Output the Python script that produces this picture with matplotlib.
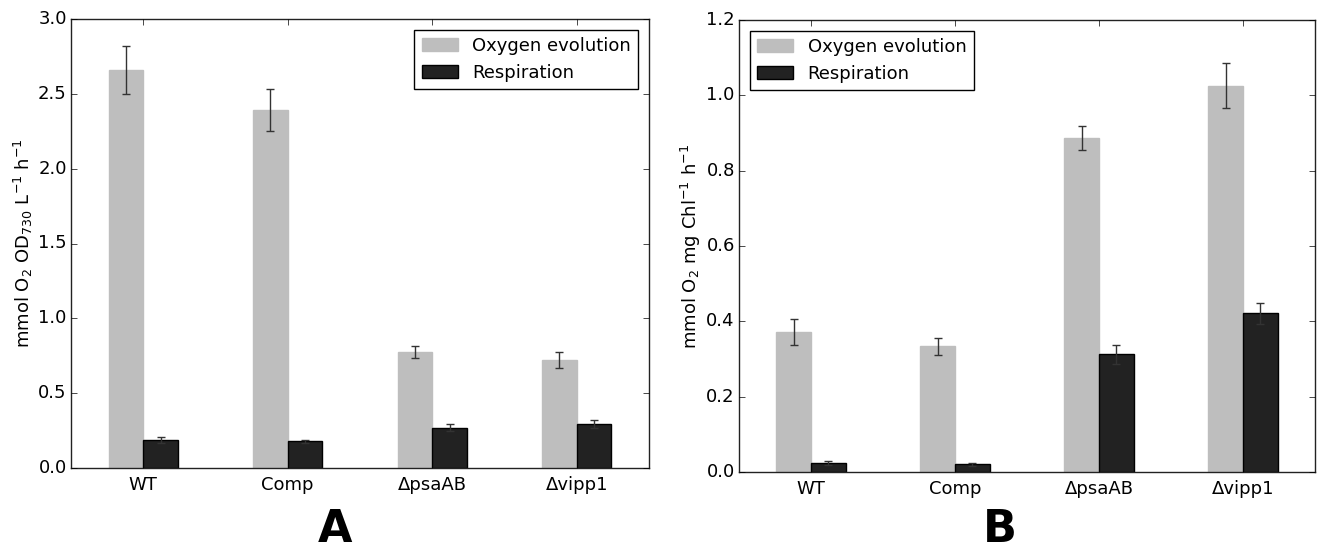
import numpy as np
import matplotlib.pyplot as plt

plt.style.use('classic')
plt.rcParams['figure.facecolor'] = 'white'
plt.rcParams['savefig.facecolor'] = 'white'
plt.rcParams['font.family'] = 'DejaVu Sans'
plt.rcParams['mathtext.fontset'] = 'dejavusans'

strains = ['WT', 'Comp', '\u0394psaAB', '\u0394vipp1']

# Panel A: per OD730
oxy_a = [2.66, 2.39, 0.775, 0.72]
oxy_a_err = [0.16, 0.14, 0.04, 0.055]
resp_a = [0.19, 0.18, 0.27, 0.295]
resp_a_err = [0.02, 0.01, 0.025, 0.025]

# Panel B: per mg Chl
oxy_b = [0.372, 0.334, 0.887, 1.026]
oxy_b_err = [0.034, 0.023, 0.032, 0.06]
resp_b = [0.024, 0.021, 0.312, 0.421]
resp_b_err = [0.005, 0.004, 0.024, 0.029]

W, H = 1317, 551
fig = plt.figure(figsize=(W / 100, H / 100), dpi=100)

gray = '#bebebe'
dark = '#222222'
w = 0.24
x = np.arange(len(strains))
fs = 13


def panel(ax, oxy, oxy_err, resp, resp_err, ylim, yticks, ylabel, legloc):
    ax.bar(x - w, oxy, w, yerr=oxy_err, color=gray, edgecolor=gray,
           ecolor='#333333', capsize=3, error_kw=dict(elinewidth=1, capthick=1),
           label='Oxygen evolution', align='edge')
    ax.bar(x, resp, w, yerr=resp_err, color=dark, edgecolor='black',
           ecolor='#333333', capsize=3, error_kw=dict(elinewidth=1, capthick=1),
           label='Respiration', align='edge')
    ax.set_xlim(-0.5, len(strains) - 0.5)
    ax.set_ylim(*ylim)
    ax.set_yticks(yticks)
    ax.set_xticks(x)
    ax.set_xticklabels(strains, fontsize=fs)
    ax.tick_params(axis='y', labelsize=fs, pad=3)
    ax.tick_params(axis='x', pad=6)
    ax.set_ylabel(ylabel, fontsize=fs)
    leg = ax.legend(loc=legloc, fontsize=fs, frameon=True, fancybox=False,
                    handlelength=2.0, borderaxespad=0.6)
    leg.get_frame().set_edgecolor('black')
    for s in ax.spines.values():
        s.set_color('#222222')


axA = fig.add_axes([71 / W, 1 - 468 / H, 578 / W, (468 - 19) / H])
panel(axA, oxy_a, oxy_a_err, resp_a, resp_a_err, (0, 3.0),
      np.arange(0, 3.01, 0.5),
      r'mmol O$_2$ OD$_{730}$ L$^{-1}$ h$^{-1}$', 'upper right')
axA.yaxis.set_label_coords(-36 / 578, 0.5)

axB = fig.add_axes([739 / W, 1 - 472 / H, 576 / W, (472 - 20) / H])
panel(axB, oxy_b, oxy_b_err, resp_b, resp_b_err, (0, 1.2),
      np.arange(0, 1.21, 0.2),
      r'mmol O$_2$ mg Chl$^{-1}$ h$^{-1}$', 'upper left')
axB.yaxis.set_label_coords(-36 / 576, 0.5)

fig.text(335 / W, 1 - 529 / H, 'A', fontsize=32, fontweight='bold',
         ha='center', va='center')
fig.text(1000 / W, 1 - 529 / H, 'B', fontsize=32, fontweight='bold',
         ha='center', va='center')

fig.savefig('out.png', dpi=100)
